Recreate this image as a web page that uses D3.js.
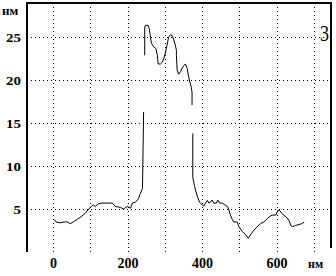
<!DOCTYPE html>
<html>
<head>
<meta charset="utf-8">
<script src="https://cdn.jsdelivr.net/npm/d3@7"></script>
<style>
  body { margin: 0; background: #fff; }
  .grid line { stroke: #000; stroke-width: 1; stroke-dasharray: 1,3; shape-rendering: crispEdges; }
  .grid text { font-family: "Liberation Serif", serif; font-weight: bold; fill: #000; }
</style>
</head>
<body>
<div id="chart"></div>
<script>
// Profile data (position along scan, nm) and height (nm); null = gap in trace
let positionNm = [
  3, 8, 19, 30, 38, 46, 54, 65, 75, 86,
  94, 102, 108, 113, 121, 132, 148, 159, 167, 181,
  189, 199, 208, 213, 221, 229, 234, 240, 243, 244,
  246, 246, 248, 255, 258, 261, 264, 270, 276, 280,
  282, 288, 293, 297, 302, 306, 310, 315, 320, 324,
  328, 331, 331, 333, 337, 342, 346, 351, 355, 360,
  363, 367, 371, 373, 373, 374, 375, 375, 380, 387,
  393, 400, 405, 409, 414, 418, 423, 427, 431, 438,
  442, 447, 454, 461, 468, 472, 476, 481, 485, 494,
  499, 508, 517, 524, 530, 539, 548, 557, 566, 575,
  584, 589, 598, 604, 609, 616, 625, 633, 638, 643,
  651, 660, 668, 674
];
let heightNm = [
  3.8, 3.5, 3.4, 3.5, 3.5, 3.3, 3.5, 3.8, 4.1, 4.5,
  4.9, 5.3, 5.5, 5.3, 5.6, 5.7, 5.7, 5.7, 5.3, 5.2,
  5.0, 5.3, 5.1, 5.7, 5.8, 6.2, 6.8, 7.4, 16.3, null,
  22.9, 26.2, 26.4, 26.4, 26.0, 25.2, 24.3, 23.9, 23.7, 22.9,
  21.9, 21.9, 22.1, 22.5, 23.3, 24.1, 25.0, 25.3, 25.2, 24.7,
  24.1, 23.5, 22.9, 21.2, 20.7, 21.0, 21.4, 21.7, 21.9, 21.4,
  20.6, 19.8, 19.2, 18.6, 17.1, null, 13.8, 8.7, 7.6, 6.5,
  5.8, 5.5, 5.35, 5.7, 6.0, 5.7, 5.85, 6.05, 5.7, 5.7,
  6.05, 5.7, 5.7, 5.5, 5.3, 4.9, 4.3, 3.8, 3.5, 3.5,
  2.95, 2.4, 2.0, 1.6, 2.0, 2.55, 2.95, 3.3, 3.5, 3.9,
  4.2, 4.3, 4.3, 4.9, 4.8, 4.4, 4.1, 3.7, 3.1, 2.95,
  3.1, 3.2, 3.3, 3.5
];
let xTicks = [0, 100, 200, 300, 400, 500, 600, 700];
let xLabels = [0, 200, 400, 600];
let yTicks = [5, 10, 15, 20, 25];
let unitLabel = "нм";
let panelLabel = "3";

let svgWidth = 336;
let svgHeight = 276;
let margin = { top: 3, right: 5, bottom: 24, left: 27 };
let width = svgWidth - margin.left - margin.right;
let height = svgHeight - margin.top - margin.bottom;

let svg = d3.select("#chart")
  .append("svg")
  .attr("width", svgWidth)
  .attr("height", svgHeight);

let chartGroup = svg.append("g")
  .attr("transform", `translate(${margin.left}, ${margin.top})`);

// Scales
let xScale = d3.scaleLinear().domain([-70, 746]).range([0, width]);
let yScale = d3.scaleLinear().domain([0, 29]).range([height, 0]);

// Horizontal dotted grid + y labels
let yAxis = chartGroup.append("g")
  .classed("grid", true)
  .call(d3.axisLeft(yScale).tickValues(yTicks).tickSize(-width).tickPadding(6));
yAxis.select(".domain").remove();
yAxis.selectAll("text").attr("font-size", "13px").attr("transform", "scale(1.15,1)")
  .attr("x", -6 / 1.15);

// Vertical dotted grid + x labels
let xAxis = chartGroup.append("g")
  .classed("grid", true)
  .attr("transform", `translate(0, ${height})`)
  .call(d3.axisBottom(xScale).tickValues(xTicks).tickSize(-height).tickPadding(6)
    .tickFormat((d) => (xLabels.includes(d) ? d : "")));
xAxis.select(".domain").remove();
xAxis.selectAll("text").attr("font-size", "14px");

// Frame (left, top, right)
chartGroup.append("path")
  .attr("d", `M0,${height}V0H${width}V${height - 4}`)
  .attr("fill", "none")
  .attr("stroke", "#000")
  .attr("stroke-width", 1.5)
  .attr("shape-rendering", "crispEdges");

// Profile trace
let points = positionNm.map((p, i) => ({ x: p, v: heightNm[i] }));
let line = d3.line()
  .defined((d) => d.v !== null)
  .x((d) => xScale(d.x))
  .y((d) => yScale(d.v));

chartGroup.append("path")
  .datum(points)
  .attr("d", line)
  .attr("fill", "none")
  .attr("stroke", "#000")
  .attr("stroke-width", 1);

// Unit labels
svg.append("text")
  .attr("x", 2)
  .attr("y", 15)
  .attr("font-family", "Liberation Serif, serif")
  .attr("font-weight", "bold")
  .attr("font-size", "13px")
  .text(unitLabel);

svg.append("text")
  .attr("x", 308)
  .attr("y", 268)
  .attr("font-family", "Liberation Serif, serif")
  .attr("font-weight", "bold")
  .attr("font-size", "12px")
  .text(unitLabel);

// Panel number
svg.append("text")
  .attr("transform", "translate(329, 41) scale(0.75, 1)")
  .attr("text-anchor", "end")
  .attr("font-family", "Liberation Serif, serif")
  .attr("font-size", "24px")
  .text(panelLabel);
</script>
</body>
</html>
